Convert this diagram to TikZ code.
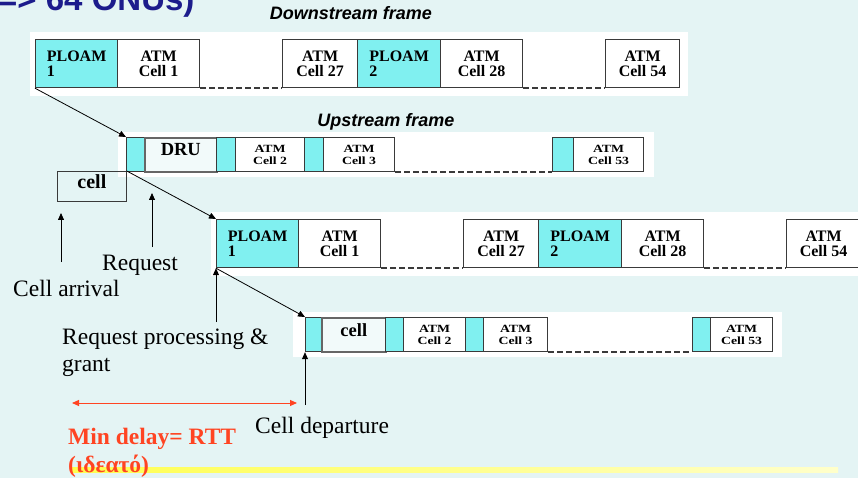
\documentclass[tikz,border=0pt]{standalone}
\usepackage{fontspec}
\setmainfont{Liberation Serif}
\setsansfont{Liberation Sans}
\newfontfamily\widefont[FakeStretch=1.25]{Liberation Serif}
\usetikzlibrary{arrows.meta,positioning,calc}
\definecolor{slidebg}{HTML}{E4F4F4}
\definecolor{ploamcyan}{HTML}{80F0F0}
\definecolor{framegray}{HTML}{3A3A3A}
\definecolor{delayred}{HTML}{FF4422}
\definecolor{titlenavy}{HTML}{1C1C8C}
\definecolor{hlyellow}{HTML}{FFFF50}

\tikzset{
  slot/.style={draw=framegray, line width=1.2pt, inner sep=0pt, anchor=north west},
  ploam/.style={slot, fill=ploamcyan, minimum width=#1pt, minimum height=48pt, align=left,
    font=\bfseries\fontsize{16}{15}\selectfont},
  dcell/.style={slot, fill=white, minimum width=#1pt, minimum height=48pt, align=center,
    font=\bfseries\fontsize{16}{15}\selectfont},
  guard/.style={slot, fill=ploamcyan, minimum width=#1pt, minimum height=34pt},
  ucell/.style={slot, fill=white, minimum width=#1pt, minimum height=34pt, align=center,
    font=\widefont\bfseries\fontsize{11}{12}\selectfont},
  grantbox/.style={slot, draw=gray!80!black, line width=1.6pt, fill=slidebg!50!white,
    minimum width=#1pt, minimum height=34pt, text depth=10pt,
    font=\bfseries\fontsize{18.5}{19}\selectfont},
  cellbox/.style={draw=framegray, line width=0.8pt, inner sep=0pt, anchor=north west,
    minimum width=69pt, minimum height=30pt, text depth=10pt,
    font=\bfseries\fontsize{20}{20}\selectfont},
  skipline/.style={framegray, line width=1.7pt, dash pattern=on 6pt off 3pt},
  pointer/.style={line width=0.8pt, -{Triangle[length=7pt,width=6pt]}},
  span/.style={delayred, line width=1pt, {Triangle[length=7pt,width=6pt]}-{Triangle[length=7pt,width=6pt]}},
  label/.style={inner sep=0pt, font=\fontsize{23.5}{27}\selectfont},
  frametitle/.style={inner sep=0pt, anchor=base, font=\sffamily\bfseries\itshape\fontsize{18}{18}\selectfont},
}

\begin{document}
\begin{tikzpicture}[x=1pt, y=-1pt]
  \clip (0,0) rectangle (858,478);
  \fill[slidebg] (0,0) rectangle (858,478);

  % slide title, cut by the page top
  \node[inner sep=0pt, anchor=base west, text=titlenavy,
    font=\sffamily\bfseries\fontsize{33}{33}\selectfont] (title) at (-2,11) {=> 64 ONUs)};

  % downstream frames
  \foreach \fr/\dx/\dy in {d1/0/0, d2/181/180} {
    \begin{scope}[shift={(\dx,\dy)}]
      \fill[white] (30,32) rectangle (688,96);
      \node[ploam=82] (\fr-p1) at (35,39) {PLOAM\\1};
      \node[dcell=82] (\fr-c1) at (117,39) {ATM\\Cell 1};
      \node[dcell=75] (\fr-c27) at (282,39) {ATM\\Cell 27};
      \node[ploam=83] (\fr-p2) at (357,39) {PLOAM\\2};
      \node[dcell=82] (\fr-c28) at (440,39) {ATM\\Cell 28};
      \node[dcell=74] (\fr-c54) at (605,39) {ATM\\Cell 54};
      \draw[skipline] (\fr-c1.south east) -- (\fr-c27.south west);
      \draw[skipline] (\fr-c28.south east) -- (\fr-c54.south west);
    \end{scope}
  }
  \node[frametitle] (dtitle) at (351,20) {Downstream frame};

  % upstream frame with the request
  \fill[white] (118,132) rectangle (654,177);
  \node[guard=18] (u1-g1) at (126,137) {};
  \node[grantbox=72] (u1-dru) at (144,137) {DRU};
  \node[guard=19] (u1-g2) at (216,137) {};
  \node[ucell=69] (u1-c2) at (235,137) {ATM\\Cell 2};
  \node[guard=19] (u1-g3) at (304,137) {};
  \node[ucell=71] (u1-c3) at (323,137) {ATM\\Cell 3};
  \node[guard=21] (u1-g4) at (552,137) {};
  \node[ucell=70] (u1-c53) at (573,137) {ATM\\Cell 53};
  \draw[skipline] (u1-c3.south east) -- (u1-g4.south west);
  \node[frametitle] (utitle) at (386,127) {Upstream frame};

  % upstream frame with the granted cell
  \fill[white] (293,312) rectangle (782,357);
  \node[guard=16] (u2-g1) at (305,317) {};
  \node[grantbox=64] (u2-cell) at (321,317) {cell};
  \node[guard=18] (u2-g2) at (385,317) {};
  \node[ucell=62] (u2-c2) at (403,317) {ATM\\Cell 2};
  \node[guard=18] (u2-g3) at (465,317) {};
  \node[ucell=64] (u2-c3) at (483,317) {ATM\\Cell 3};
  \node[guard=18] (u2-g4) at (692,317) {};
  \node[ucell=62] (u2-c53) at (710,317) {ATM\\Cell 53};
  \draw[skipline] (u2-c3.south east) -- (u2-g4.south west);

  \node[cellbox] (arrived) at (57,171) {cell};

  % message flow
  \draw[pointer] (d1-p1.south west) -- (u1-g1.north west);
  \draw[pointer] (arrived.north east) -- (d2-p1.north west);
  \draw[pointer] (d2-p1.south west) -- (u2-g1.north west);

  % events
  \coordinate (arrtail) at (61,262);
  \coordinate (arrtip) at (61,213);
  \coordinate (reqtail) at (152,247);
  \coordinate (reqtip) at (152,193);
  \coordinate (proctail) at (216,322);
  \coordinate (deptail) at (305,405);
  \draw[pointer] (arrtail) -- (arrtip);
  \draw[pointer] (reqtail) -- (reqtip);
  \draw[pointer] (proctail) -- (d2-p1.south west);
  \draw[pointer] (deptail) -- (u2-g1.south west);

  \node[label, anchor=base west] (arrival) at (13,296) {Cell arrival};
  \node[label, anchor=base west] (request) at (102,270) {Request};
  \node[label, anchor=north west, align=left] (processing) at (62,329) {Request processing \&\\grant};
  \node[label, anchor=base west] (departure) at (255,433) {Cell departure};

  % minimum delay
  \shade[left color=hlyellow, right color=hlyellow!30] (72,467) rectangle (838,472);
  \coordinate (delaystart) at (72,403);
  \coordinate (delayend) at (297,403);
  \draw[span] (delaystart) -- (delayend);
  \node[label, anchor=north west, align=left, text=delayred, font=\bfseries\fontsize{23.5}{28}\selectfont]
    (delay) at (68,428) {Min delay= RTT\\(ιδεατό)};
\end{tikzpicture}
\end{document}
